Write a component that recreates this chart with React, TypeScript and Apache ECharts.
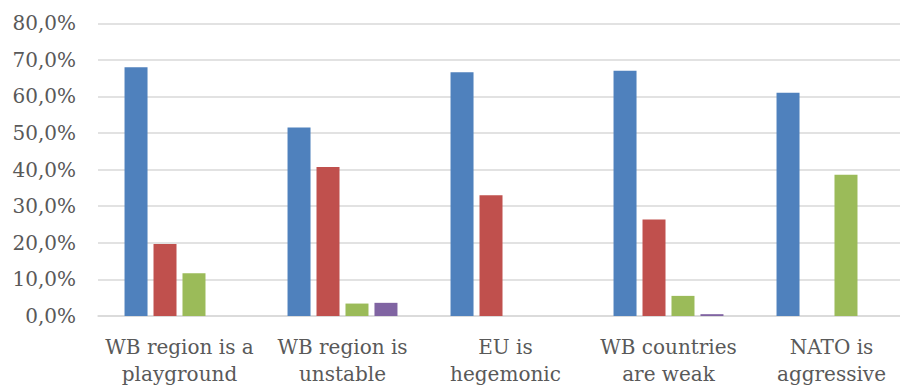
import React, { useEffect, useRef } from "react";
import * as echarts from "echarts";

const categories = [
  "WB region is a\nplayground",
  "WB region is\nunstable",
  "EU is\nhegemonic",
  "WB countries\nare weak",
  "NATO is\naggressive",
];
const seriesBlue = [68.0, 51.5, 66.6, 67.0, 61.0];
const seriesRed = [19.7, 40.7, 33.0, 26.4, 0];
const seriesGreen = [11.7, 3.4, 0, 5.5, 38.6];
const seriesPurple = [0, 3.6, 0, 0.5, 0];
const seriesColors = ["#4F81BD", "#C0504D", "#9BBB59", "#8064A2"];
const seriesNames = ["S1", "S2", "S3", "S4"];

export default function App() {
  const ref = useRef<HTMLDivElement>(null);
  useEffect(() => {
    if (!ref.current) return;
    const chart = echarts.init(ref.current, null, { renderer: "svg" });
    const data = [seriesBlue, seriesRed, seriesGreen, seriesPurple];
    const font = "'DejaVu Serif', serif";
    chart.setOption({
      animation: false,
      grid: { left: 98, top: 23.3, width: 815, height: 293.4, containLabel: false },
      xAxis: {
        type: "category",
        data: categories,
        axisTick: { show: false },
        axisLine: { show: true, lineStyle: { color: "#D9D9D9", width: 1.5 } },
        axisLabel: {
          color: "#595959",
          fontFamily: font,
          fontSize: 20,
          lineHeight: 27,
          margin: 17,
          interval: 0,
        },
      },
      yAxis: {
        type: "value",
        min: 0,
        max: 80,
        interval: 10,
        axisLine: { show: false },
        axisTick: { show: false },
        splitLine: { lineStyle: { color: "#D9D9D9", width: 1.5 } },
        axisLabel: {
          color: "#595959",
          fontFamily: font,
          fontSize: 20,
          margin: 22,
          formatter: (v: number) => v.toFixed(1).replace(".", ",") + "%",
        },
      },
      series: data.map((d, i) => ({
        type: "bar",
        name: seriesNames[i],
        data: d,
        barWidth: 23,
        barGap: "26%",
        itemStyle: { color: seriesColors[i] },
      })),
    });
    return () => chart.dispose();
  }, []);
  return (
    <div
      style={{
        position: "absolute",
        left: 0,
        top: 0,
        width: 900,
        height: 387,
        overflow: "hidden",
      }}
    >
      <div ref={ref} style={{ width: 930, height: 387 }} />
    </div>
  );
}
